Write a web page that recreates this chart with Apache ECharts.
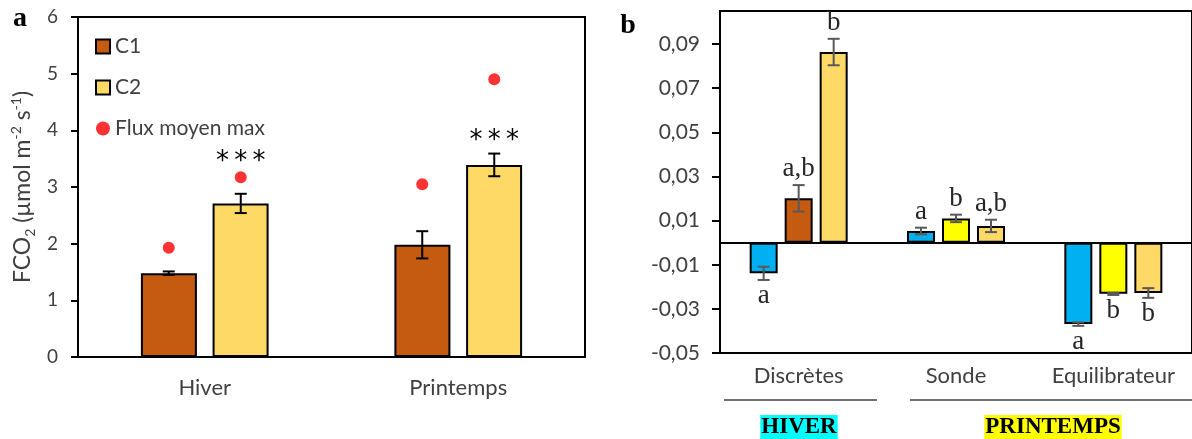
<!DOCTYPE html>
<html>
<head>
<meta charset="utf-8">
<script src="https://cdn.jsdelivr.net/npm/echarts@6/dist/echarts.min.js"></script>
<style>
html,body{margin:0;padding:0;background:#fff;}
#chart{width:1192px;height:439px;}
</style>
</head>
<body>
<div id="chart"></div>
<script>
// ---------- Panel a data ----------
const seasonsA = ['Hiver', 'Printemps'];
const c1Mean = [1.48, 1.98];
const c1Err = [0.03, 0.24];
const c2Mean = [2.71, 3.39];
const c2Err = [0.17, 0.2];
const fluxC1 = [1.93, 3.05];
const fluxC2 = [3.17, 4.9];
const starY = [3.44, 3.81];
const starText = ['***', '***'];
const yTicksA = [0, 1, 2, 3, 4, 5, 6];

// ---------- Panel b data ----------
const methodsB = ['Discrètes', 'Sonde', 'Equilibrateur'];
const blueMean = [-0.0139, 0.0053, -0.0369];
const blueErr = [0.003, 0.0015, 0.0008];
const blueLetters = ['a', 'a', 'a'];
const midMean = [0.0201, 0.011, -0.0232];
const midErr = [0.006, 0.0017, 0.0005];
const midLetters = ['a,b', 'b', 'b'];
const lightMean = [0.0864, 0.0076, -0.0228];
const lightErr = [0.006, 0.0028, 0.0022];
const lightLetters = ['b', 'a,b', 'b'];
const yTicksB = [-0.05, -0.03, -0.01, 0.01, 0.03, 0.05, 0.07, 0.09];

const BROWN = '#C55A11', GOLD = '#FFD966', BLUE = '#00B0F0', YELLOW = '#FFFF00';
const SANS = 'Lato';
const SERIF = '"Liberation Serif"';

const chart = echarts.init(document.getElementById('chart'), null, {renderer: 'canvas'});

function errorSeries(gridIdx, means, errs, offset, color, cap, letters) {
  return {
    type: 'custom',
    name: 'err' + gridIdx + '_' + offset,
    xAxisIndex: gridIdx, yAxisIndex: gridIdx,
    z: 5,
    silent: true,
    data: means.map((v, i) => [i, v, errs[i]]),
    renderItem: function (params, api) {
      const i = api.value(0), v = api.value(1), e = api.value(2);
      const t = api.coord([i, v + e]);
      const b = api.coord([i, v - e]);
      const x = t[0] + offset;
      const ls = {stroke: color, lineWidth: 2};
      const children = [
        {type: 'line', shape: {x1: x, y1: t[1], x2: x, y2: b[1]}, style: ls},
        {type: 'line', shape: {x1: x - cap, y1: t[1], x2: x + cap, y2: t[1]}, style: ls},
        {type: 'line', shape: {x1: x - cap, y1: b[1], x2: x + cap, y2: b[1]}, style: ls}
      ];
      if (letters) {
        const txt = letters[params.dataIndex];
        const y = v >= 0 ? t[1] - 16 : b[1] + 16;
        children.push({type: 'text', x: x, y: y, style: {text: txt, font: '27px ' + SERIF, fill: '#262626', align: 'center', verticalAlign: 'middle'}});
      }
      return {type: 'group', children: children};
    }
  };
}

const OFF_A = 36;
const OFF_B = 35;

const fluxData = [];
seasonsA.forEach((s, i) => {
  fluxData.push({value: [i, fluxC1[i]], symbolOffset: [-OFF_A, 0]});
  fluxData.push({value: [i, fluxC2[i]], symbolOffset: [OFF_A, 0]});
});

const option = {
  backgroundColor: '#fff',
  animation: false,
  legend: {
    orient: 'vertical',
    left: 95, top: 36,
    padding: 0,
    itemWidth: 14, itemHeight: 14,
    itemGap: 20,
    textStyle: {fontFamily: SANS, fontSize: 21, color: '#404040'},
    data: [
      {name: 'C1', icon: 'rect'},
      {name: 'C2', icon: 'rect'},
      {name: 'Flux moyen max', icon: 'circle'}
    ]
  },
  grid: [
    {left: 78, top: 17, width: 507, height: 340, show: true, borderColor: '#000', borderWidth: 2, backgroundColor: 'transparent', containLabel: false},
    {left: 720, top: 11, right: -3, height: 342, show: true, borderColor: '#000', borderWidth: 2, backgroundColor: 'transparent', containLabel: false}
  ],
  xAxis: [
    {
      type: 'category', gridIndex: 0, data: seasonsA,
      axisLine: {show: true, lineStyle: {color: '#000', width: 2}},
      axisTick: {show: false},
      axisLabel: {fontFamily: SANS, fontSize: 22, color: '#404040', margin: 20, interval: 0, hideOverlap: false},
      splitLine: {show: false}
    },
    {
      type: 'category', gridIndex: 1, data: methodsB,
      axisLine: {show: true, onZero: false, lineStyle: {color: '#000', width: 2}},
      axisTick: {show: false},
      axisLabel: {fontFamily: SANS, fontSize: 22, color: '#404040', margin: 12, interval: 0, hideOverlap: false},
      splitLine: {show: false}
    }
  ],
  yAxis: [
    {
      type: 'value', gridIndex: 0, min: 0, max: 6, interval: 1,
      axisLine: {show: true, lineStyle: {color: '#000', width: 2}},
      axisTick: {show: true, length: 7, lineStyle: {color: '#000', width: 2}},
      axisLabel: {fontFamily: SANS, fontSize: 19, color: '#404040', margin: 20, customValues: yTicksA},
      splitLine: {show: false},
      name: '{n|FCO}{sub|2}{n| (µmol m}{sup|-2}{n| s}{sup|-1}{n|)}',
      nameLocation: 'middle',
      nameRotate: 90,
      nameGap: 41,
      nameTextStyle: {
        rich: {
          n: {fontFamily: SANS, fontSize: 23, color: '#404040', lineHeight: 28, verticalAlign: 'middle'},
          sub: {fontFamily: SANS, fontSize: 14, color: '#404040', lineHeight: 14, verticalAlign: 'bottom'},
          sup: {fontFamily: SANS, fontSize: 14, color: '#404040', lineHeight: 14, verticalAlign: 'top'}
        }
      }
    },
    {
      type: 'value', gridIndex: 1, min: -0.05, max: 0.105,
      axisLine: {show: true, onZero: false, lineStyle: {color: '#000', width: 2}},
      axisTick: {show: true, length: 8, lineStyle: {color: '#000', width: 2}, customValues: yTicksB},
      axisLabel: {
        fontFamily: SANS, fontSize: 21, color: '#404040', margin: 20,
        customValues: yTicksB,
        formatter: v => v.toFixed(2).replace('.', ',')
      },
      splitLine: {show: false}
    }
  ],
  series: [
    // Panel a
    {
      name: 'C1', type: 'bar', xAxisIndex: 0, yAxisIndex: 0,
      data: c1Mean, barWidth: 56, barGap: '28%',
      itemStyle: {color: BROWN, borderColor: '#000', borderWidth: 2}
    },
    {
      name: 'C2', type: 'bar', xAxisIndex: 0, yAxisIndex: 0,
      data: c2Mean, barWidth: 56, barGap: '28%',
      itemStyle: {color: GOLD, borderColor: '#000', borderWidth: 2}
    },
    errorSeries(0, c1Mean, c1Err, -OFF_A, '#000', 6, null),
    errorSeries(0, c2Mean, c2Err, OFF_A, '#000', 6, null),
    {
      name: 'Flux moyen max', type: 'scatter', xAxisIndex: 0, yAxisIndex: 0,
      data: fluxData, symbol: 'circle', symbolSize: 12, z: 6,
      itemStyle: {color: '#FF0000'}
    },
    {
      type: 'custom', name: 'stars', xAxisIndex: 0, yAxisIndex: 0, z: 6, silent: true,
      data: starY.map((v, i) => [i, v]),
      renderItem: function (params, api) {
        const p = api.coord([api.value(0), api.value(1)]);
        const t = starText[params.dataIndex].split('').join('\u2009');
        return {type: 'text', x: p[0] + OFF_A, y: p[1], style: {text: t, font: '26px "DejaVu Sans"', fill: '#000', align: 'center', verticalAlign: 'middle'}};
      }
    },
    // Panel b
    {
      name: 'blue', type: 'bar', xAxisIndex: 1, yAxisIndex: 1,
      data: blueMean, barWidth: 28, barGap: '25%',
      itemStyle: {color: BLUE, borderColor: '#000', borderWidth: 2},
      markLine: {
        silent: true, symbol: 'none', label: {show: false},
        lineStyle: {color: '#000', width: 2, type: 'solid'},
        data: [{yAxis: 0}]
      }
    },
    {
      name: 'mid', type: 'bar', xAxisIndex: 1, yAxisIndex: 1,
      data: midMean.map((v, i) => ({value: v, itemStyle: {color: i === 0 ? BROWN : YELLOW}})),
      barWidth: 28, barGap: '25%',
      itemStyle: {borderColor: '#000', borderWidth: 2}
    },
    {
      name: 'light', type: 'bar', xAxisIndex: 1, yAxisIndex: 1,
      data: lightMean, barWidth: 28, barGap: '25%',
      itemStyle: {color: GOLD, borderColor: '#000', borderWidth: 2}
    },
    errorSeries(1, blueMean, blueErr, -OFF_B, '#595959', 6, blueLetters),
    errorSeries(1, midMean, midErr, 0, '#595959', 6, midLetters),
    errorSeries(1, lightMean, lightErr, OFF_B, '#595959', 6, lightLetters)
  ],
  graphic: [
    {type: 'text', x: 20, y: 19, style: {text: 'a', font: 'bold 28px ' + SERIF, fill: '#000', align: 'center', verticalAlign: 'middle'}},
    {type: 'text', x: 628, y: 26, style: {text: 'b', font: 'bold 28px ' + SERIF, fill: '#000', align: 'center', verticalAlign: 'middle'}},
    {type: 'line', shape: {x1: 724, y1: 400, x2: 877, y2: 400}, style: {stroke: '#404040', lineWidth: 1.5}},
    {type: 'line', shape: {x1: 910, y1: 400, x2: 1192, y2: 400}, style: {stroke: '#404040', lineWidth: 1.5}},
    {type: 'text', x: 799, y: 427, style: {text: 'HIVER', font: 'bold 23px ' + SERIF, fill: '#000', backgroundColor: '#00FFFF', padding: [1, 1, 0, 1], align: 'center', verticalAlign: 'middle'}},
    {type: 'text', x: 1053, y: 427, style: {text: 'PRINTEMPS', font: 'bold 23px ' + SERIF, fill: '#000', backgroundColor: '#FFFF00', padding: [1, 1, 0, 1], align: 'center', verticalAlign: 'middle'}}
  ]
};
chart.setOption(option);
</script>
</body>
</html>
